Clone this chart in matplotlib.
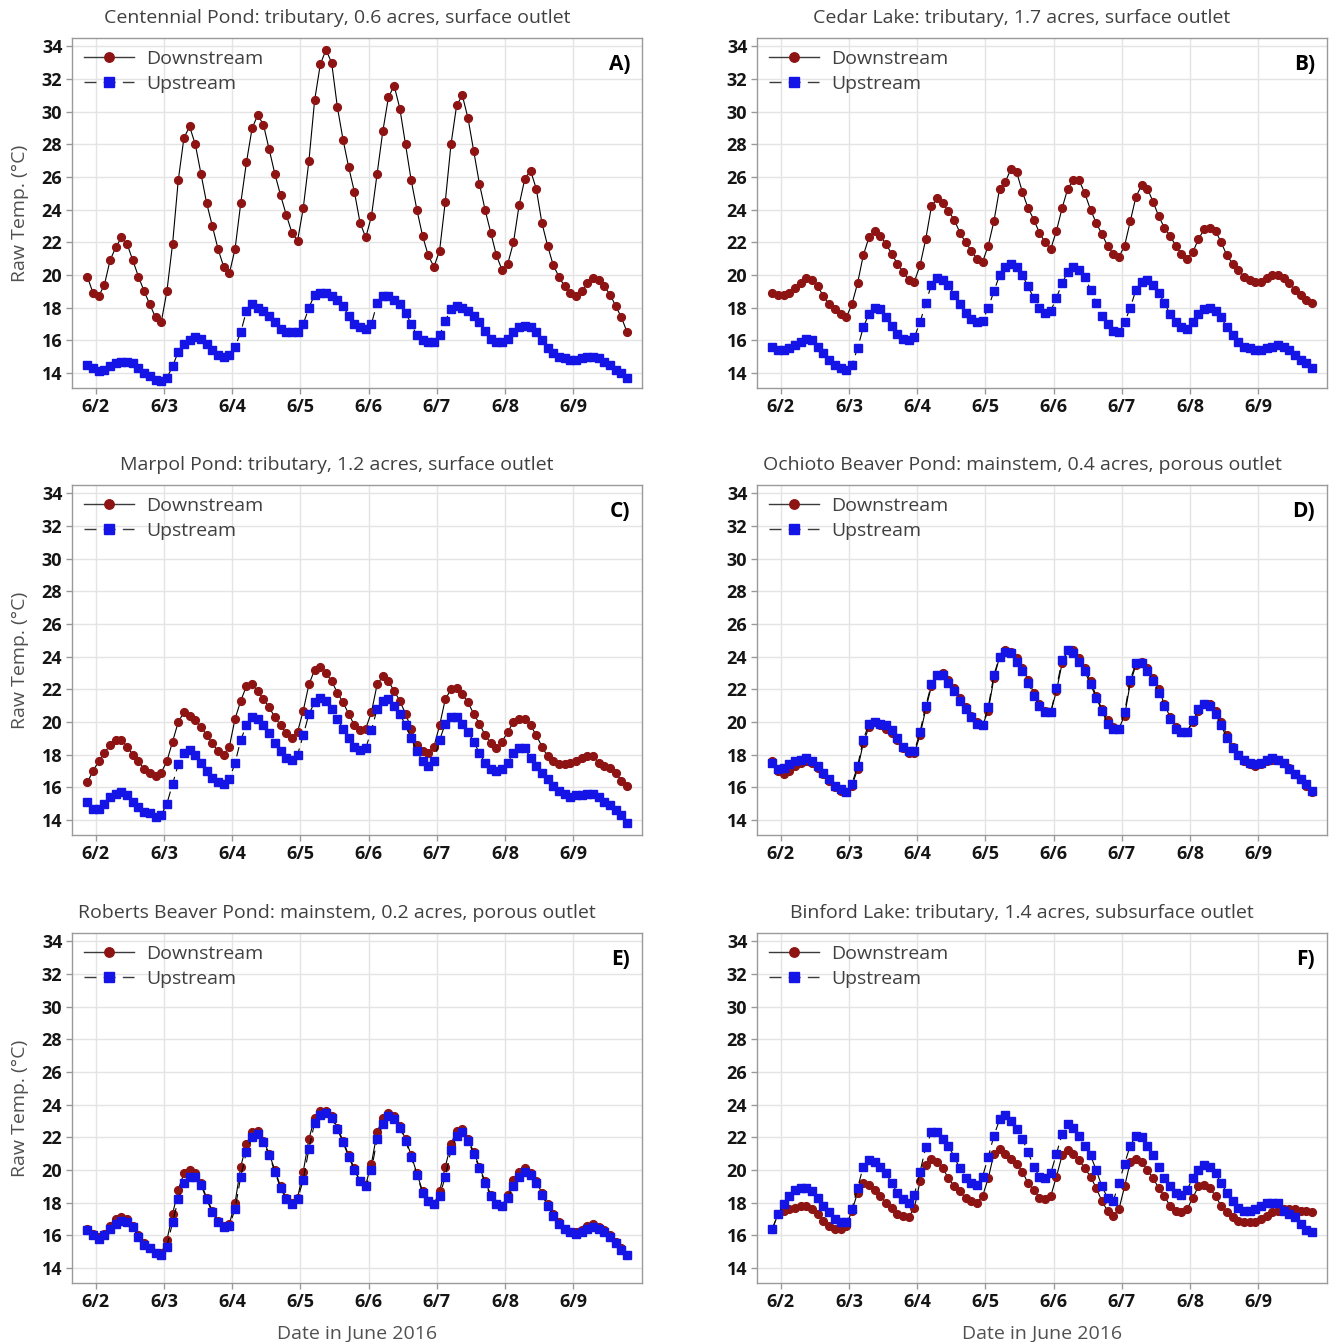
import numpy as np
import matplotlib
matplotlib.use("Agg")
import matplotlib.pyplot as plt
from matplotlib.lines import Line2D

plt.rcParams['font.family'] = ['Open Sans', 'DejaVu Sans']

# ---------------- data (2-hourly readings, hours since 6/2 00:00) ----------------
hours = np.arange(-3, 189, 2)          # 96 samples: 6/1 21:00 ... 6/9 19:00
date_ticks = [0, 1, 2, 3, 4, 5, 6, 7]
date_labels = ['6/2', '6/3', '6/4', '6/5', '6/6', '6/7', '6/8', '6/9']

titles = ['Centennial Pond: tributary, 0.6 acres, surface outlet',
          'Cedar Lake: tributary, 1.7 acres, surface outlet',
          'Marpol Pond: tributary, 1.2 acres, surface outlet',
          'Ochioto Beaver Pond: mainstem, 0.4 acres, porous outlet',
          'Roberts Beaver Pond: mainstem, 0.2 acres, porous outlet',
          'Binford Lake: tributary, 1.4 acres, subsurface outlet']
panel_tags = ['A)', 'B)', 'C)', 'D)', 'E)', 'F)']

a_down = [19.9, 18.9, 18.7, 19.4, 20.9, 21.7, 22.3, 21.9, 20.9, 19.9, 19.0, 18.2,
          17.4, 17.1, 19.0, 21.9, 25.8, 28.4, 29.1, 28.0, 26.2, 24.4, 23.0, 21.6,
          20.5, 20.1, 21.6, 24.4, 26.9, 29.0, 29.8, 29.2, 27.7, 26.2, 24.9, 23.7,
          22.6, 22.1, 24.1, 27.0, 30.7, 32.9, 33.8, 33.0, 30.3, 28.3, 26.6, 25.1,
          23.2, 22.3, 23.6, 26.2, 28.8, 30.9, 31.6, 30.2, 28.0, 25.8, 24.0, 22.4,
          21.2, 20.5, 21.5, 24.5, 28.0, 30.4, 31.0, 29.6, 27.6, 25.6, 24.0, 22.6,
          21.2, 20.3, 20.7, 22.0, 24.3, 25.9, 26.4, 25.3, 23.2, 21.8, 20.6, 19.9,
          19.3, 18.9, 18.7, 19.0, 19.5, 19.8, 19.7, 19.3, 18.8, 18.1, 17.4, 16.5]
a_up = [14.5, 14.3, 14.1, 14.2, 14.4, 14.6, 14.7, 14.7, 14.6, 14.3, 14.0, 13.8,
        13.6, 13.5, 13.7, 14.4, 15.3, 15.8, 16.0, 16.2, 16.1, 15.8, 15.4, 15.1,
        15.0, 15.1, 15.6, 16.5, 17.8, 18.2, 18.0, 17.8, 17.5, 17.1, 16.7, 16.5,
        16.5, 16.5, 17.0, 18.0, 18.8, 18.9, 18.9, 18.7, 18.5, 18.1, 17.5, 17.0,
        16.8, 16.7, 17.0, 18.3, 18.7, 18.7, 18.5, 18.2, 17.7, 17.0, 16.3, 16.0,
        15.9, 15.9, 16.3, 17.2, 17.9, 18.1, 18.0, 17.8, 17.5, 17.1, 16.6, 16.1,
        15.9, 15.9, 16.1, 16.5, 16.8, 16.9, 16.8, 16.5, 16.0, 15.5, 15.2, 15.0,
        14.9, 14.8, 14.8, 14.9, 15.0, 15.0, 14.9, 14.7, 14.5, 14.2, 14.0, 13.7]

b_down = [18.9, 18.8, 18.8, 18.9, 19.2, 19.5, 19.8, 19.7, 19.3, 18.7, 18.2, 17.9,
          17.6, 17.4, 18.2, 19.5, 21.2, 22.3, 22.7, 22.4, 21.9, 21.3, 20.7, 20.2,
          19.7, 19.6, 20.6, 22.2, 24.2, 24.7, 24.4, 23.9, 23.4, 22.6, 22.0, 21.5,
          21.0, 20.8, 21.8, 23.3, 25.3, 25.7, 26.5, 26.3, 25.1, 24.1, 23.4, 22.6,
          22.0, 21.6, 22.7, 24.1, 25.3, 25.8, 25.8, 25.0, 24.0, 23.2, 22.5, 21.8,
          21.3, 21.1, 21.8, 23.3, 24.8, 25.5, 25.3, 24.5, 23.6, 22.9, 22.4, 21.8,
          21.3, 21.0, 21.4, 22.2, 22.8, 22.9, 22.7, 22.0, 21.2, 20.7, 20.3, 19.9,
          19.7, 19.6, 19.6, 19.8, 20.0, 20.0, 19.8, 19.5, 19.1, 18.8, 18.5, 18.3]
b_up = [15.6, 15.4, 15.4, 15.5, 15.7, 15.9, 16.1, 16.0, 15.6, 15.2, 14.8, 14.5,
        14.3, 14.2, 14.5, 15.5, 16.8, 17.6, 18.0, 17.9, 17.4, 16.9, 16.4, 16.1,
        16.0, 16.2, 17.1, 18.3, 19.4, 19.8, 19.7, 19.4, 18.8, 18.2, 17.7, 17.3,
        17.1, 17.2, 18.0, 19.0, 20.0, 20.5, 20.7, 20.5, 20.0, 19.3, 18.6, 18.0,
        17.7, 17.8, 18.6, 19.5, 20.2, 20.5, 20.3, 19.9, 19.1, 18.3, 17.5, 17.0,
        16.6, 16.5, 17.1, 18.0, 19.1, 19.6, 19.7, 19.4, 18.9, 18.3, 17.6, 17.1,
        16.8, 16.7, 17.1, 17.6, 17.9, 18.0, 17.8, 17.4, 16.8, 16.3, 15.9, 15.6,
        15.5, 15.4, 15.4, 15.5, 15.6, 15.7, 15.6, 15.4, 15.1, 14.8, 14.6, 14.3]

c_down = [16.3, 17.0, 17.6, 18.1, 18.6, 18.9, 18.9, 18.5, 18.0, 17.6, 17.1, 16.9,
          16.7, 16.9, 17.6, 18.8, 20.0, 20.6, 20.4, 20.1, 19.7, 19.2, 18.7, 18.2,
          18.0, 18.5, 20.2, 21.3, 22.2, 22.3, 21.9, 21.4, 20.9, 20.3, 19.8, 19.3,
          19.0, 19.4, 20.7, 22.3, 23.2, 23.4, 23.0, 22.5, 21.8, 21.2, 20.5, 19.8,
          19.5, 19.6, 20.6, 22.3, 22.8, 22.5, 21.9, 21.3, 20.5, 19.6, 18.6, 18.2,
          18.1, 18.5, 19.8, 21.4, 22.0, 22.1, 21.7, 21.2, 20.5, 19.9, 19.2, 18.7,
          18.4, 18.8, 19.4, 20.0, 20.2, 20.2, 19.8, 19.2, 18.5, 17.9, 17.6, 17.4,
          17.4, 17.5, 17.6, 17.8, 17.9, 17.9, 17.5, 17.3, 17.2, 16.9, 16.4, 16.1]
c_up = [15.1, 14.7, 14.7, 15.0, 15.4, 15.6, 15.7, 15.5, 15.1, 14.8, 14.5, 14.4,
        14.2, 14.3, 15.0, 16.2, 17.4, 18.1, 18.3, 18.0, 17.5, 17.0, 16.6, 16.3,
        16.2, 16.5, 17.5, 18.9, 19.8, 20.3, 20.2, 19.8, 19.3, 18.7, 18.2, 17.8,
        17.7, 18.0, 19.2, 20.5, 21.2, 21.5, 21.3, 20.8, 20.2, 19.6, 19.0, 18.5,
        18.3, 18.4, 19.5, 20.8, 21.3, 21.4, 21.0, 20.5, 19.8, 19.0, 18.2, 17.6,
        17.3, 17.6, 18.9, 19.9, 20.3, 20.3, 19.9, 19.4, 18.8, 18.1, 17.5, 17.1,
        17.0, 17.1, 17.5, 18.1, 18.4, 18.4, 17.8, 17.3, 16.9, 16.5, 16.1, 15.8,
        15.6, 15.4, 15.5, 15.5, 15.6, 15.6, 15.4, 15.1, 14.9, 14.6, 14.3, 13.8]

d_down = [17.6, 17.0, 16.8, 17.0, 17.3, 17.5, 17.6, 17.5, 17.2, 16.8, 16.4, 16.0,
          15.8, 15.7, 16.1, 17.1, 18.7, 19.7, 20.0, 19.8, 19.6, 19.3, 18.9, 18.4,
          18.1, 18.1, 19.2, 20.8, 22.2, 22.9, 23.0, 22.6, 22.1, 21.5, 20.9, 20.4,
          20.0, 19.8, 20.7, 22.7, 24.0, 24.4, 24.3, 23.9, 23.3, 22.6, 21.8, 21.1,
          20.7, 20.6, 21.9, 23.6, 24.4, 24.4, 23.9, 23.3, 22.5, 21.6, 20.8, 20.1,
          19.7, 19.6, 20.4, 22.4, 23.5, 23.7, 23.3, 22.7, 22.0, 21.1, 20.3, 19.7,
          19.4, 19.4, 20.0, 20.7, 21.1, 21.1, 20.7, 20.0, 19.2, 18.5, 18.0, 17.6,
          17.4, 17.3, 17.4, 17.6, 17.7, 17.7, 17.5, 17.2, 16.8, 16.5, 16.1, 15.7]
d_up = [17.5, 17.1, 17.2, 17.4, 17.6, 17.7, 17.8, 17.6, 17.3, 16.9, 16.5, 16.1,
        15.9, 15.7, 16.2, 17.3, 18.9, 19.9, 20.0, 19.9, 19.8, 19.5, 19.0, 18.5,
        18.2, 18.2, 19.4, 21.0, 22.3, 22.9, 22.9, 22.4, 21.9, 21.3, 20.8, 20.3,
        19.9, 19.8, 20.9, 22.9, 24.0, 24.3, 24.2, 23.7, 23.1, 22.4, 21.6, 21.0,
        20.6, 20.6, 22.1, 23.8, 24.4, 24.2, 23.7, 23.1, 22.3, 21.5, 20.7, 19.9,
        19.6, 19.6, 20.6, 22.6, 23.6, 23.6, 23.1, 22.5, 21.8, 21.0, 20.2, 19.6,
        19.4, 19.4, 20.1, 20.8, 21.1, 21.0, 20.5, 19.8, 19.0, 18.4, 18.0, 17.7,
        17.5, 17.4, 17.5, 17.7, 17.8, 17.7, 17.5, 17.1, 16.8, 16.5, 16.2, 15.8]

e_down = [16.4, 16.1, 15.9, 16.1, 16.6, 17.0, 17.1, 17.0, 16.6, 16.0, 15.5, 15.2,
          14.9, 14.9, 15.7, 17.3, 18.8, 19.8, 20.0, 19.8, 19.2, 18.3, 17.5, 16.9,
          16.6, 16.7, 18.0, 20.2, 21.6, 22.3, 22.4, 21.8, 21.0, 20.0, 19.0, 18.3,
          18.0, 18.3, 19.9, 21.9, 23.2, 23.6, 23.6, 23.3, 22.6, 21.8, 20.9, 20.1,
          19.3, 19.1, 20.4, 22.3, 23.2, 23.5, 23.3, 22.7, 21.9, 20.9, 19.8, 18.7,
          18.1, 17.9, 18.7, 20.2, 21.6, 22.4, 22.5, 21.9, 21.1, 20.2, 19.3, 18.5,
          17.9, 17.8, 18.5, 19.4, 19.9, 20.1, 19.8, 19.3, 18.6, 17.9, 17.3, 16.8,
          16.4, 16.2, 16.2, 16.3, 16.6, 16.7, 16.5, 16.3, 16.0, 15.6, 15.2, 14.8]
e_up = [16.3, 16.0, 15.8, 16.0, 16.4, 16.7, 16.9, 16.8, 16.5, 15.9, 15.4, 15.2,
        14.9, 14.8, 15.3, 16.8, 18.2, 19.2, 19.6, 19.6, 19.1, 18.2, 17.4, 16.8,
        16.5, 16.6, 17.6, 19.6, 21.1, 22.0, 22.2, 21.7, 20.9, 19.9, 18.9, 18.2,
        17.9, 18.2, 19.4, 21.3, 22.9, 23.4, 23.5, 23.2, 22.5, 21.7, 20.8, 20.0,
        19.3, 19.0, 20.0, 21.9, 22.8, 23.3, 23.1, 22.6, 21.8, 20.8, 19.7, 18.6,
        18.1, 17.9, 18.4, 19.6, 21.2, 22.1, 22.3, 21.8, 21.0, 20.1, 19.2, 18.4,
        17.9, 17.8, 18.3, 19.0, 19.6, 19.9, 19.7, 19.2, 18.5, 17.8, 17.2, 16.7,
        16.4, 16.2, 16.1, 16.2, 16.4, 16.5, 16.4, 16.2, 15.9, 15.5, 15.1, 14.8]

f_down = [16.4, 17.3, 17.5, 17.6, 17.7, 17.8, 17.8, 17.6, 17.3, 16.9, 16.6, 16.4,
          16.4, 16.6, 17.5, 18.6, 19.2, 19.1, 18.8, 18.4, 18.0, 17.7, 17.3, 17.2,
          17.1, 17.7, 19.3, 20.3, 20.7, 20.5, 20.1, 19.5, 19.0, 18.7, 18.3, 18.1,
          18.0, 18.4, 19.5, 21.0, 21.3, 21.0, 20.7, 20.4, 19.9, 19.2, 18.8, 18.3,
          18.2, 18.4, 19.6, 20.9, 21.2, 21.0, 20.6, 20.1, 19.6, 18.9, 18.1, 17.5,
          17.2, 17.6, 19.0, 20.5, 20.7, 20.5, 20.0, 19.5, 18.9, 18.4, 17.8, 17.5,
          17.4, 17.6, 18.3, 19.0, 19.1, 18.9, 18.4, 17.8, 17.4, 17.1, 16.9, 16.8,
          16.8, 16.8, 17.0, 17.2, 17.4, 17.5, 17.6, 17.6, 17.6, 17.5, 17.5, 17.4]
f_up = [16.4, 17.3, 17.9, 18.4, 18.8, 18.9, 18.9, 18.7, 18.3, 17.8, 17.4, 17.0,
        16.8, 16.8, 17.6, 18.9, 20.2, 20.6, 20.5, 20.2, 19.8, 19.2, 18.6, 18.2,
        18.0, 18.5, 19.9, 21.4, 22.3, 22.3, 21.9, 21.5, 20.8, 20.1, 19.5, 19.2,
        19.1, 19.6, 20.8, 22.1, 23.1, 23.4, 23.0, 22.5, 21.9, 21.1, 20.2, 19.6,
        19.5, 19.8, 21.0, 22.2, 22.8, 22.6, 22.1, 21.5, 20.9, 20.0, 19.0, 18.3,
        18.1, 19.2, 20.4, 21.5, 22.1, 22.0, 21.5, 20.9, 20.2, 19.5, 19.0, 18.6,
        18.5, 18.8, 19.5, 20.0, 20.3, 20.2, 19.8, 19.2, 18.6, 18.1, 17.7, 17.5,
        17.5, 17.6, 17.8, 18.0, 18.0, 18.0, 17.5, 17.3, 17.1, 16.7, 16.3, 16.2]

downstream = [a_down, b_down, c_down, d_down, e_down, f_down]
upstream = [a_up, b_up, c_up, d_up, e_up, f_up]

# ---------------- figure ----------------
W, H = 1330, 1342
fig = plt.figure(figsize=(W / 100, H / 100), dpi=100)

RED = '#8e1414'
BLUE = '#1414e6'
GRAY_TXT = '#404040'
DASH = (0, (8.6, 5.2))

col_left = [72, 757]
row_top = [38, 485, 933]
ax_w, ax_h = 570, 350

days = hours / 24.0

leg_handles = [
    Line2D([], [], color='#3a3a3a', lw=1.0, marker='o', ms=6.8, mfc=RED, mec=RED),
    Line2D([], [], color='#3a3a3a', lw=1.0, ls=DASH, marker='s', ms=6.6, mfc=BLUE, mec=BLUE),
]

for i in range(6):
    r, c = divmod(i, 2)
    left = col_left[c] / W
    bottom = 1 - (row_top[r] + ax_h) / H
    ax = fig.add_axes([left, bottom, ax_w / W, ax_h / H])

    ax.plot(days, downstream[i], color='black', lw=0.8, marker='o', ms=5.6,
            mfc=RED, mec=RED, zorder=3)
    ax.plot(days, upstream[i], color='black', lw=0.8, ls=DASH, marker='s',
            ms=5.8, mfc=BLUE, mec=BLUE, zorder=4)

    ax.set_xlim(-0.35, 8.01)
    ax.set_ylim(13.08, 34.52)
    ax.set_yticks(np.arange(14, 35, 2))
    ax.set_xticks(date_ticks)
    ax.set_xticklabels(date_labels)
    ax.grid(True, color='#e4e4e4', lw=1.0)
    ax.set_axisbelow(True)
    for sp in ax.spines.values():
        sp.set_color('#9a9a9a')
        sp.set_linewidth(1.0)
    ax.tick_params(axis='both', length=4, width=1, color='#9a9a9a',
                   labelsize=13, labelcolor='#151515', pad=3)
    for lab in ax.get_xticklabels() + ax.get_yticklabels():
        lab.set_fontweight('bold')

    ax.set_title(titles[i], fontsize=14, color=GRAY_TXT, pad=11, x=0.465)
    ax.text(0.979, 0.923, panel_tags[i], transform=ax.transAxes, ha='right',
            va='center', fontsize=15, fontweight='bold', color='black')

    ax.legend(leg_handles, ['Downstream', 'Upstream'], loc='upper left',
              frameon=False, fontsize=14, handlelength=2.6, handletextpad=0.6,
              labelspacing=0.36, borderaxespad=0.15, borderpad=0.45,
              labelcolor=GRAY_TXT)

    if c == 0:
        ax.set_ylabel('Raw Temp. (°C)', fontsize=14, color='#505050', labelpad=9)
    if r == 2:
        ax.set_xlabel('Date in June 2016', fontsize=14, color='#505050', labelpad=10)

fig.savefig('out.png', dpi=100, facecolor='white')
